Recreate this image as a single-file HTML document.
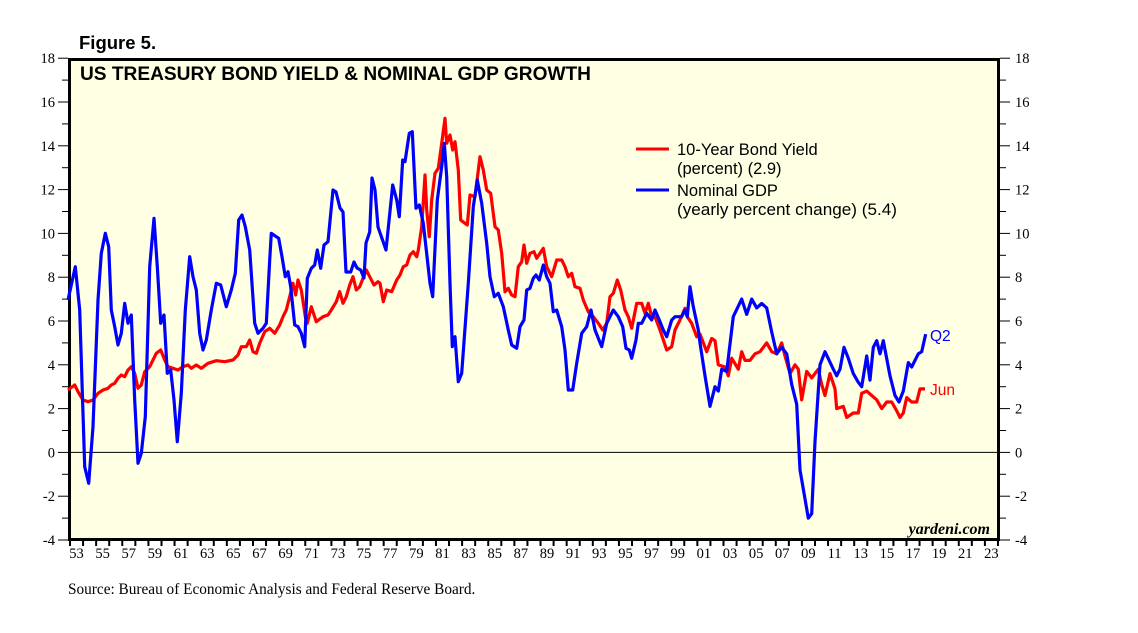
<!DOCTYPE html>
<html><head><meta charset="utf-8"><style>
body{margin:0;background:#fff;}
svg{display:block;}
</style></head><body>
<svg id="s" width="1138" height="633" xmlns="http://www.w3.org/2000/svg">
<text x="79" y="49" font-family="Liberation Sans, sans-serif" font-weight="bold" font-size="18.5">Figure 5.</text>
<rect x="69.5" y="59.5" width="929" height="480" fill="#FFFFE4" stroke="#000" stroke-width="3"/>
<line x1="70" y1="452.4" x2="998" y2="452.4" stroke="#000" stroke-width="1"/>
<g id="ticks"></g>
<g id="lines"></g>
<text x="80" y="80" font-family="Liberation Sans, sans-serif" font-weight="bold" font-size="19" textLength="511" lengthAdjust="spacingAndGlyphs">US TREASURY BOND YIELD &amp; NOMINAL GDP GROWTH</text>
<line x1="636" y1="149" x2="669" y2="149" stroke="#f00" stroke-width="3"/>
<line x1="636" y1="190" x2="669" y2="190" stroke="#00f" stroke-width="3"/>
<g font-family="Liberation Sans, sans-serif" font-size="16.5" fill="#000">
<text x="677" y="155">10-Year Bond Yield</text>
<text x="677" y="174">(percent) (2.9)</text>
<text x="677" y="196">Nominal GDP</text>
<text x="677" y="215" textLength="220" lengthAdjust="spacingAndGlyphs">(yearly percent change) (5.4)</text>
</g>
<text x="930" y="341" font-family="Liberation Sans, sans-serif" font-size="15.5" fill="#00f">Q2</text>
<text x="930" y="395" font-family="Liberation Sans, sans-serif" font-size="15.5" fill="#f00">Jun</text>
<text x="990" y="534" text-anchor="end" font-family="Liberation Serif, serif" font-style="italic" font-weight="bold" font-size="16">yardeni.com</text>
<text x="68" y="594" font-family="Liberation Serif, serif" font-size="15.3">Source: Bureau of Economic Analysis and Federal Reserve Board.</text>
</svg>
<script>
var NS="http://www.w3.org/2000/svg",s=document.getElementById('s');
var T=document.getElementById('ticks'),L=document.getElementById('lines');
function el(n,a,p){var e=document.createElementNS(NS,n);for(var k in a)e.setAttribute(k,a[k]);(p||T).appendChild(e);return e;}
function Y(v){return 452.4-v*21.9;}
for(var v=-4;v<=18;v++){var y=Y(v),maj=v%2==0;
el('line',{x1:maj?58:62,y1:y,x2:68,y2:y,stroke:'#000','stroke-width':1});
el('line',{x1:1000,y1:y,x2:maj?1010:1006,y2:y,stroke:'#000','stroke-width':1});
if(maj){var t=el('text',{x:55,y:y+5,'text-anchor':'end','font-family':'Liberation Serif, serif','font-size':14.5});t.textContent=v;
var t2=el('text',{x:1015,y:y+5,'font-family':'Liberation Serif, serif','font-size':14.5});t2.textContent=v;}}
for(var i=0;i<=71;i++){var x=70+i*13.07;el('line',{x1:x,y1:540,x2:x,y2:546,stroke:'#000','stroke-width':2});
if(i%2==0&&i<71){var t=el('text',{x:x+6.5,y:558,'text-anchor':'middle','font-family':'Liberation Serif, serif','font-size':14.5});t.textContent=String((53+i)%100).padStart(2,'0');}}
function z4(a){return a.map(function(p){return [68+p[0]/3,200+p[1]/3];});}
function z5(a){return a.map(function(p){return [380+p[0]/3,110+p[1]/3];});}
function z3(a){return a.map(function(p){return [700+p[0]/3,Y(p[1])];});}
var b4=[[0,300],[22,200],[35,330],[50,800],[62,850],[75,680],[90,300],[100,160],[112,100],[122,140],[130,330],[140,380],[150,435],[160,400],[170,310],[180,370],[190,345],[200,600],[210,790],[220,760],[232,650],[245,200],[258,55],[268,200],[278,370],[288,345],[298,520],[308,510],[318,600],[328,725],[340,580],[352,330],[365,170],[375,230],[385,270],[395,400],[405,450],[415,420],[430,330],[445,250],[458,255],[475,320],[490,270],[502,220],[512,60],[522,45],[532,80],[545,150],[560,370],[570,400],[585,385],[595,370],[605,180],[610,100],[625,110],[632,115],[642,170],[652,230],[660,215],[668,260],[680,375],[690,380],[700,400],[710,440],[718,235],[730,205],[740,195],[748,150],[758,205],[768,135],[780,125]];
var bmid=[[333,190],[336,192],[340,208],[343,212],[346,272],[350.7,272],[354,262],[357,268],[360.7,270],[364,278],[366,243],[369.7,232],[372,178],[375,190],[378,227],[386,250],[392.7,185]];
var b5=[[50,270],[58,320],[68,150],[75,155],[88,70],[97,65],[108,295],[118,285],[130,340],[150,520],[158,560],[172,270],[185,170],[193,100],[200,200],[210,520],[217,710],[225,680],[235,815],[245,790],[265,520],[280,290],[292,210],[305,280],[320,400],[330,500],[343,560],[355,550],[370,590],[385,660],[395,705],[410,715],[420,650],[432,630],[440,540],[450,535],[460,505],[468,495],[478,510],[490,465],[500,500],[510,520],[520,605],[530,600],[545,650],[555,720],[565,840],[578,840],[590,760],[605,670],[620,650],[633,600],[645,660],[665,710],[680,640],[700,600],[715,620],[728,650],[738,715],[748,720],[755,745],[768,690],[775,640],[785,640],[800,610],[815,630],[825,600],[838,630],[850,660],[860,680],[875,630],[885,620],[905,620],[915,600],[922,620],[930,530],[940,590],[955,660]];
var b3=[[0,5],[15,3.5],[30,2.1],[45,3],[55,2.8],[65,3.8],[80,3.7],[100,6.2],[125,7],[140,6.3],[155,7],[170,6.6],[185,6.8],[200,6.6],[215,5.5],[230,4.5],[245,4.8],[260,4.5],[275,3.1],[290,2.2],[300,-0.8],[325,-3],[335,-2.8],[345,0.5],[360,4],[375,4.6],[400,3.8],[410,3.5],[420,3.8],[432,4.8],[445,4.3],[460,3.6],[475,3.2],[485,3.0],[500,4.4],[510,3.3],[520,4.8],[530,5.1],[540,4.5],[550,5.1],[570,3.5],[585,2.6],[597,2.3],[610,2.8],[625,4.1],[635,3.9],[655,4.5],[665,4.6],[677,5.4]];
var blue=z4(b4).concat(bmid,z5(b5),z3(b3));
var r4=[[0,570],[20,555],[30,575],[45,600],[60,605],[75,600],[90,580],[105,570],[120,565],[130,555],[140,550],[150,535],[160,525],[170,530],[180,510],[190,500],[200,520],[210,565],[220,555],[230,515],[245,500],[255,480],[265,460],[278,450],[290,480],[300,500],[315,505],[330,510],[345,500],[360,495],[370,505],[385,495],[400,505],[420,490],[445,482],[470,485],[495,480],[510,465],[520,440],[535,440],[545,420],[555,455],[565,460],[575,430],[590,395],[605,385],[620,400],[635,375],[645,350],[655,330],[665,290],[675,250],[683,285],[690,240],[700,270],[712,350],[718,370],[730,320],[745,365],[765,350],[780,345],[790,330],[805,305],[815,275],[825,310],[835,290],[845,255],[855,230],[865,270],[875,260],[885,235],[895,210],[905,230],[918,255],[930,245]];
var r5=[[0,520],[10,575],[20,540],[35,545],[50,510],[60,495],[70,470],[80,465],[90,435],[100,425],[110,440],[115,420],[125,350],[135,195],[140,300],[148,380],[155,270],[165,190],[175,175],[185,100],[195,25],[200,100],[210,75],[218,120],[225,95],[235,180],[242,330],[255,340],[262,345],[270,255],[285,260],[300,140],[310,180],[320,240],[332,250],[345,350],[355,360],[365,430],[375,545],[385,535],[395,555],[405,560],[415,470],[425,455],[432,405],[440,460],[450,430],[462,425],[470,445],[480,430],[490,415],[500,470],[515,500],[530,450],[545,450],[555,470],[565,500],[575,490],[585,530],[600,535],[610,570],[625,605],[640,620],[655,640],[668,660],[680,640],[690,560],[700,550],[712,510],[722,540],[735,600],[745,620],[755,655],[770,580],[785,580],[795,610],[805,580],[815,620],[825,620],[840,660],[860,720],[875,710],[885,660],[900,630],[915,595],[922,620],[935,640],[950,680]];
var r3=[[0,5.4],[20,4.6],[35,5.2],[45,5.1],[55,4],[75,3.9],[85,3.5],[95,4.3],[115,3.8],[125,4.6],[135,4.2],[150,4.2],[165,4.5],[180,4.6],[200,5],[215,4.6],[230,4.5],[245,5.0],[255,4.4],[270,3.6],[285,4.0],[295,3.8],[305,2.4],[320,3.7],[335,3.4],[355,3.8],[365,3.1],[375,2.6],[390,3.6],[405,2.9],[410,2.0],[430,2.1],[440,1.6],[460,1.8],[475,1.8],[485,2.7],[500,2.8],[515,2.6],[530,2.4],[545,2.0],[560,2.3],[575,2.3],[590,1.9],[600,1.6],[610,1.8],[620,2.5],[635,2.3],[650,2.3],[660,2.9],[675,2.9]];
var red=z4(r4).concat(z5(r5),z3(r3));
function pl(a,c){el('polyline',{points:a.map(function(p){return p[0].toFixed(1)+','+p[1].toFixed(1);}).join(' '),fill:'none',stroke:c,'stroke-width':3.2,'stroke-linejoin':'round'},L);}
pl(red,'#f00');pl(blue,'#00f');
</script>
</body></html>
